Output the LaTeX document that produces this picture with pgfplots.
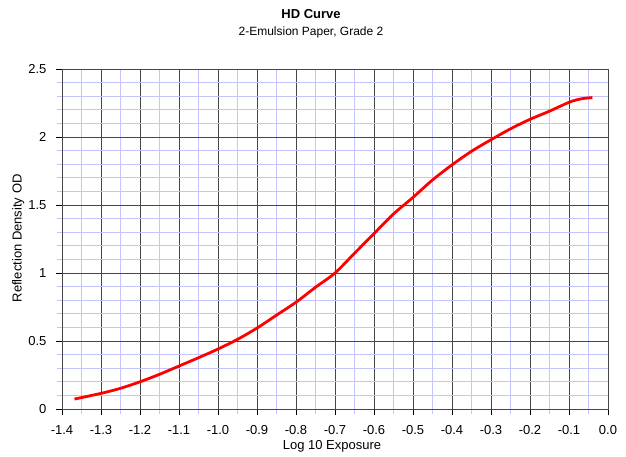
\documentclass[border=0pt]{standalone}
\usepackage{fontspec}
\setmainfont{Liberation Sans}
\usepackage{pgfplots}
\pgfplotsset{compat=1.18}
\definecolor{gridblue}{RGB}{196,196,255}
\definecolor{majorgray}{RGB}{70,70,70}
\newcommand{\px}[1]{\fontsize{#1}{#1}\selectfont}
\begin{document}
\begin{tikzpicture}[x=1pt,y=1pt]
\useasboundingbox (0,0) rectangle (626,456);
\begin{axis}[
	at={(62pt,47pt)}, anchor=south west,
	scale only axis, width=546pt, height=340pt,
	xmin=-1.4, xmax=0, ymin=0, ymax=2.5,
	xtick={-1.4,-1.3,-1.2,-1.1,-1.0,-0.9,-0.8,-0.7,-0.6,-0.5,-0.4,-0.3,-0.2,-0.1,0},
	xticklabels={-1.4,-1.3,-1.2,-1.1,-1.0,-0.9,-0.8,-0.7,-0.6,-0.5,-0.4,-0.3,-0.2,-0.1,0.0},
	ytick={0,0.5,1,1.5,2,2.5},
	yticklabels={0,0.5,1,1.5,2,2.5},
	minor x tick num=1, minor y tick num=4,
	grid=both,
	major grid style={draw=majorgray, line width=1pt},
	minor grid style={draw=gridblue, line width=1.2pt},
	axis line style={draw=majorgray, line width=1pt},
	tick pos=left, tick align=outside,
	major tick length=6pt, minor tick length=5pt,
	major tick style={draw=black, line width=1pt},
	minor tick style={draw=gridblue, line width=1pt},
	tick label style={font=\px{13}},
	xticklabel style={anchor=base, yshift=-19pt},
	yticklabel style={anchor=east, xshift=-6pt},
]
\addplot[draw=red, line width=2.8pt, smooth] coordinates {
	(-1.368,0.073) (-1.3,0.115) (-1.25,0.152) (-1.2,0.200) (-1.15,0.255)
	(-1.1,0.316) (-1.05,0.377) (-1.0,0.441) (-0.95,0.512) (-0.9,0.595)
	(-0.85,0.69) (-0.8,0.785) (-0.75,0.895) (-0.7,1.0) (-0.65,1.145)
	(-0.6,1.29) (-0.55,1.434) (-0.5,1.556) (-0.45,1.684) (-0.4,1.795)
	(-0.35,1.895) (-0.3,1.98) (-0.25,2.06) (-0.2,2.13) (-0.15,2.19)
	(-0.1,2.255) (-0.07,2.28) (-0.04,2.29)
};
\end{axis}
\node[anchor=base, font=\px{13}\bfseries] at (311,437) {HD Curve};
\node[anchor=base, font=\px{12}] at (311,420.3) {2-Emulsion Paper, Grade 2};
\node[anchor=base, font=\px{13}] at (332,7) {Log 10 Exposure};
\node[rotate=90, font=\px{13}] at (18.3,217.7) {Reflection Density OD};
\end{tikzpicture}
\end{document}
